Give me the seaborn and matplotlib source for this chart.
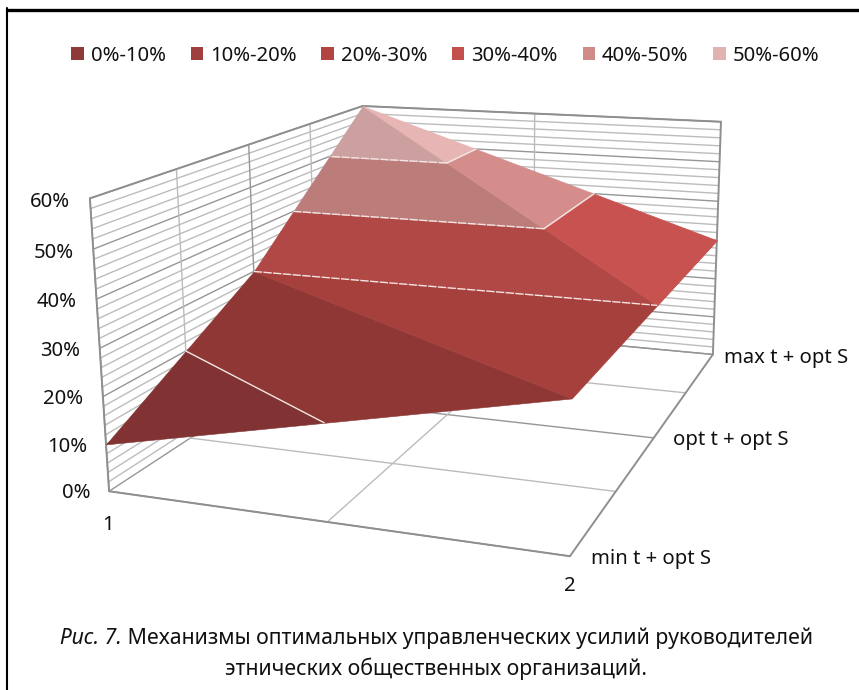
import numpy as np
import matplotlib
matplotlib.use('Agg')
import matplotlib.pyplot as plt
import seaborn as sns
from matplotlib.lines import Line2D
from matplotlib.patches import Patch
from mpl_toolkits.mplot3d import proj3d
from mpl_toolkits.mplot3d.art3d import Poly3DCollection

# values
cats = [1, 2]
series_labels = ['min t + opt S', 'opt t + opt S', 'max t + opt S']
z_cat1 = [10, 30, 60]
z_cat2 = [30, 30, 30]
z_ticks = [0, 10, 20, 30, 40, 50, 60]
band_labels = ['0%-10%', '10%-20%', '20%-30%', '30%-40%', '40%-50%', '50%-60%']
band_colors = ['#8e3a38', '#a0403e', '#b24542', '#c4504d', '#d08a88', '#e2b2b0']
facet_shade = [0.80, 0.93, 0.90, 1.02]

W, H = 859, 690
sns.set_theme(style='white')
plt.rcParams['font.family'] = ['Noto Sans', 'DejaVu Sans']
FS = 14.6
CAP_FS = 15.35
TXT = '#111111'

fig = plt.figure(figsize=(W / 100, H / 100), dpi=100, facecolor='white')
# camera and box fitted to the corners of the reference walls
left, top, box_w = 58.2, -80.0, 755.7
ax = fig.add_axes([left / W, 1 - (top + box_w) / H, box_w / W, box_w / H], projection='3d')
ax.set_xlim(1, 2)
ax.set_ylim(0, 2)
ax.set_zlim(0, 60)
ax.set_xticks([])
ax.set_yticks([])
ax.set_zticks([])
ax.computed_zorder = False
ax.set_axis_off()
ax.view_init(elev=14.461, azim=-69.576, roll=0.503)
ax.set_proj_type('persp', focal_length=float(np.exp(-0.942)))
ax.set_box_aspect((1.603, 2.210, 1.0))

grid_c = '#bcbcbc'
major_c = '#969696'
edge_c = '#8f8f8f'
ymax = len(series_labels) - 1


def line(xs, ys, zs, color=grid_c, lw=1.0):
    ax.plot(xs, ys, zs, color=color, lw=lw, zorder=1, solid_capstyle='round')


def label(x, y, z, s, ha):
    u, v, _ = proj3d.proj_transform(x, y, z, ax.get_proj())
    ax.text2D(u, v, s, transform=ax.transData, ha=ha, va='center', fontsize=FS, color=TXT, clip_on=False)


# walls and floor
for z in np.arange(0, 60.1, 2):
    c = major_c if z % 10 == 0 else grid_c
    line([1, 1], [0, ymax], [z, z], c)
    line([1, 2], [ymax, ymax], [z, z], c)
for yy in np.arange(0, ymax + 0.1, 0.5):
    c = major_c if yy % 1 == 0 else grid_c
    line([1, 2], [yy, yy], [0, 0], c)
    line([1, 1], [yy, yy], [0, 60], c)
line([1.5, 1.5], [0, ymax], [0, 0])
line([1.5, 1.5], [ymax, ymax], [0, 60])
line([1, 2], [0, 0], [0, 0], edge_c, 1.4)
line([2, 2], [0, ymax], [0, 0], edge_c, 1.4)
line([1, 1], [0, 0], [0, 60], edge_c, 1.4)
line([2, 2], [ymax, ymax], [0, 60], edge_c, 1.4)
line([1, 1], [0, ymax], [60, 60], edge_c, 1.4)
line([1, 2], [ymax, ymax], [60, 60], edge_c, 1.4)

# surface: two triangles per cell, cut into 10% bands
P = [[(cats[0], j, z_cat1[j]) for j in range(3)], [(cats[1], j, z_cat2[j]) for j in range(3)]]
facets = [
    (P[0][0], P[1][0], P[0][1]),
    (P[0][1], P[1][0], P[1][1]),
    (P[0][1], P[1][1], P[0][2]),
    (P[1][1], P[1][2], P[0][2]),
]


def clip(poly, level, keep_above):
    out = []
    for a, b in zip(poly, poly[1:] + poly[:1]):
        ina = a[2] >= level if keep_above else a[2] <= level
        inb = b[2] >= level if keep_above else b[2] <= level
        if ina:
            out.append(a)
        if ina != inb:
            t = (level - a[2]) / (b[2] - a[2])
            out.append(tuple(np.array(a) + t * (np.array(b) - np.array(a))))
    return out


pal = sns.color_palette(band_colors)
for k, tri in enumerate(facets):
    for i, col in enumerate(pal):
        poly = clip(clip(list(tri), i * 10, True), (i + 1) * 10, False)
        # the flat triangle at 30% belongs to the 20-30 band only
        if len(poly) < 3 or max(q[2] for q in poly) - min(q[2] for q in poly) < 1e-9 and i != 2:
            continue
        shaded = tuple(min(1, ch * facet_shade[k]) for ch in col)
        ax.add_collection3d(Poly3DCollection([poly], facecolor=shaded, edgecolor=shaded, lw=0.4, zorder=2))

# white contour lines
for k, tri in enumerate(facets):
    for level in (20, 40, 50):
        pts = []
        for a, b in zip(tri, tri[1:] + tri[:1]):
            if (a[2] - level) * (b[2] - level) < 0:
                t = (level - a[2]) / (b[2] - a[2])
                pts.append(np.array(a) + t * (np.array(b) - np.array(a)))
        if len(pts) == 2:
            ax.plot(*zip(*pts), color='#f3e4e2', lw=1.0, ls=(0, (6, 1)) if k == 2 else '-', zorder=3)
ax.plot(*zip(P[0][1], P[1][1]), color='#f3e4e2', lw=1.0, ls=(0, (6, 1)), zorder=3)

# labels
for z in z_ticks:
    label(0.953, 0, z - 1, f'{z}%', 'right')
label(cats[0] - 0.008, 0, -7.3, str(cats[0]), 'center')
label(cats[1], 0, -5.9, str(cats[1]), 'center')
label(2.04, 0, 0, series_labels[0], 'left')
label(2.045, 1, 0, series_labels[1], 'left')
label(2.03, 2, -0.8, series_labels[2], 'left')

handles = [Patch(facecolor=c, edgecolor='none') for c in pal]
fig.legend(handles, band_labels, ncol=6, frameon=False, loc='center', bbox_to_anchor=(0.5185, 1 - 56 / H),
           fontsize=FS, handlelength=0.6, handleheight=0.6, handletextpad=0.35, columnspacing=1.23,
           labelcolor=TXT)

# caption
t1 = fig.text(60 / W, 1 - 638 / H, 'Рис. 7.', style='italic', fontsize=CAP_FS, va='center', color=TXT)
ax.annotate(' Механизмы оптимальных управленческих усилий руководителей', xy=(1, 0.5), xycoords=t1,
            va='center', ha='left', fontsize=CAP_FS, color=TXT, annotation_clip=False)
fig.text(436 / W, 1 - 669 / H, 'этнических общественных организаций.', ha='center', va='center',
         fontsize=CAP_FS, color=TXT)

# frame: only the top and left rules are inside the picture
fig.add_artist(Line2D([7 / W, 1], [1 - 9.5 / H, 1 - 9.5 / H], transform=fig.transFigure, color='black', lw=2.4))
fig.add_artist(Line2D([7 / W, 7 / W], [0, 1 - 8 / H], transform=fig.transFigure, color='black', lw=1.5))

fig.savefig('out.png', dpi=100)
